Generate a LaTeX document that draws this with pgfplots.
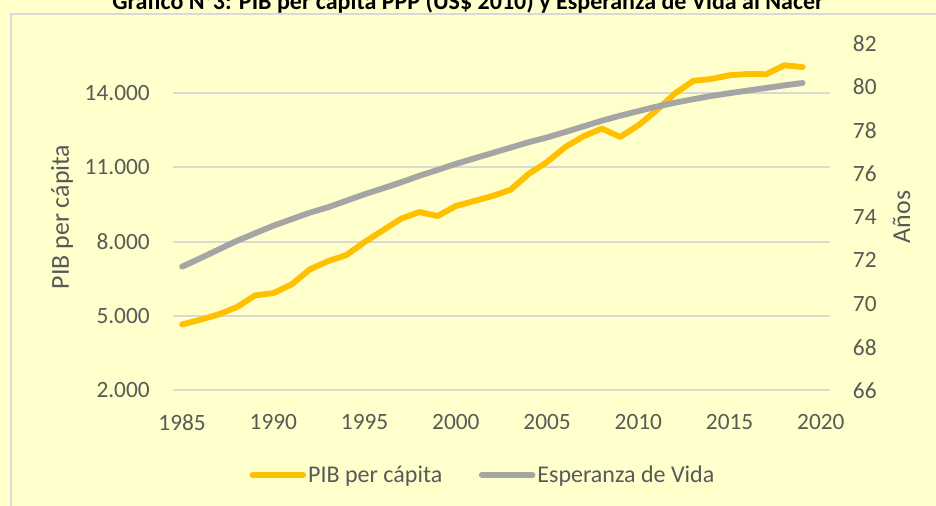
\documentclass[border=0pt]{standalone}
\usepackage{fontspec}
\setmainfont{Carlito}
\usepackage{pgfplots}
\usepackage{pgfplotstable}
\pgfplotsset{compat=1.18}
\definecolor{bg}{HTML}{FFFFCC}
\definecolor{gridc}{HTML}{D9D9D9}
\definecolor{txt}{HTML}{595959}
\definecolor{pib}{HTML}{FFC000}
\definecolor{esp}{HTML}{A5A5A5}

\pgfplotstableread{
year pib
1985 4665
1986 4855
1987 5069
1988 5364
1989 5836
1990 5929
1991 6280
1992 6886
1993 7222
1994 7464
1995 7989
1996 8461
1997 8933
1998 9200
1999 9038
2000 9442
2001 9644
2002 9846
2003 10100
2004 10746
2005 11220
2006 11825
2007 12257
2008 12567
2009 12228
2010 12700
2011 13306
2012 13980
2013 14490
2014 14570
2015 14720
2016 14770
2017 14760
2018 15120
2019 15050
}\pibtable

\pgfplotstableread{
year esp
1985 71.71
1986 72.10
1987 72.50
1988 72.90
1989 73.25
1990 73.60
1991 73.90
1992 74.20
1993 74.45
1994 74.75
1995 75.05
1996 75.32
1997 75.60
1998 75.90
1999 76.17
2000 76.45
2001 76.70
2002 76.95
2003 77.20
2004 77.45
2005 77.67
2006 77.92
2007 78.18
2008 78.44
2009 78.67
2010 78.88
2011 79.09
2012 79.27
2013 79.43
2014 79.58
2015 79.71
2016 79.83
2017 79.95
2018 80.07
2019 80.18
}\esptable

\pgfplotsset{
  base/.style={
    scale only axis,
    width=492.75pt, height=260.25pt,
    at={(129.75pt,86.625pt)}, anchor=south west,
    xmin=1984.5, xmax=2020.5,
    axis line style={draw=none},
    major tick length=0pt,
    tick style={draw=none},
    scaled y ticks=false,
    /pgf/number format/assume math mode=true,
    ticklabel style={font=\fontsize{17.5}{20}\selectfont, text=txt},
    clip=false,
  },
  pibline/.style={color=pib, line width=4.4pt, line cap=round, line join=round},
  espline/.style={color=esp, line width=4.4pt, line cap=round, line join=round},
}

\begin{document}
\begin{tikzpicture}[x=0.75pt,y=0.75pt]
\useasboundingbox (0,0) rectangle (936,506);
\fill[bg] (-5,-5) rectangle (941,511);
\draw[gridc, line width=1.5pt] (11,-10) -- (11,492) -- (950,492);
\node[anchor=base, font=\fontsize{18}{21}\selectfont\bfseries] at (468,496) {Gráfico N°3: PIB per cápita PPP (US\$ 2010) y Esperanza de Vida al Nacer};

\begin{axis}[base,
  axis x line*=bottom, axis y line*=left,
  ymin=2000, ymax=16000,
  ytick={2000,5000,8000,11000,14000},
  yticklabels={2.000,5.000,8.000,11.000,14.000},
  ymajorgrids,
  grid style={gridc, line width=1.5pt},
  yticklabel style={anchor=east, inner sep=0pt, xshift=-17.25pt},
  xtick={1985,1990,1995,2000,2005,2010,2015,2020},
  xticklabels={1985,1990,1995,2000,2005,2010,2015,2020},
  xticklabel style={anchor=north, inner sep=0pt, yshift=-17.6pt},
  ylabel={PIB per cápita},
  every axis y label/.style={at={(axis description cs:-0.169,0.5)}, rotate=90, anchor=center,
    font=\fontsize{19.4}{22}\selectfont, text=txt},
]
\addplot[pibline] table[x=year, y=pib] {\pibtable};
\end{axis}

\begin{axis}[base,
  axis y line*=right, axis x line=none,
  ymin=66, ymax=82,
  ytick={66,68,70,72,74,76,78,80,82},
  yticklabels={66,68,70,72,74,76,78,80,82},
  yticklabel style={anchor=west, inner sep=0pt, xshift=17pt},
  ylabel={Años},
  every axis y label/.style={at={(axis description cs:1.109,0.5)}, rotate=90, anchor=center,
    font=\fontsize{19.4}{22}\selectfont, text=txt},
  legend columns=2,
  legend style={at={(axis description cs:0.4718,-0.2435)}, anchor=center, draw=none, fill=none,
    font=\fontsize{18}{21}\selectfont, text=txt,
    nodes={inner sep=1.5pt},
    /tikz/every even column/.append style={column sep=26pt}},
  legend image code/.code={\draw[#1] (0pt,0pt) -- (38pt,0pt);},
]
\addlegendimage{pibline}
\addlegendentry{PIB per cápita}
\addplot[espline] table[x=year, y=esp] {\esptable};
\addlegendentry{Esperanza de Vida}
\end{axis}
\end{tikzpicture}
\end{document}
